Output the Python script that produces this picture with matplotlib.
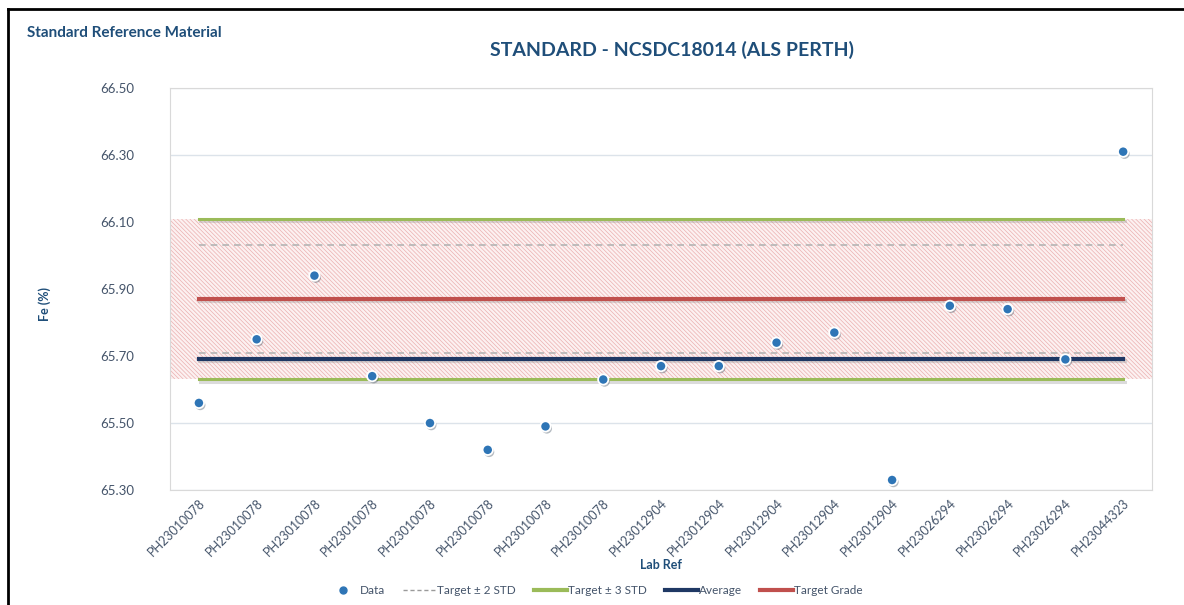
import matplotlib
matplotlib.use("Agg")
import matplotlib.pyplot as plt
import matplotlib.patheffects as pe
from matplotlib.lines import Line2D
import numpy as np

plt.rcParams['font.family'] = ['Lato', 'DejaVu Sans']
plt.rcParams['hatch.linewidth'] = 0.5

# ---- data ----
lab_refs = ['PH23010078'] * 8 + ['PH23012904'] * 5 + ['PH23026294'] * 3 + ['PH23044323']
fe_values = [65.56, 65.75, 65.94, 65.64, 65.50, 65.42, 65.49, 65.63,
             65.67, 65.67, 65.74, 65.77, 65.33, 65.85, 65.84, 65.69, 66.31]
target_grade = 65.87
std_dev = 0.08
average = 65.69
y_ticks = [65.30, 65.50, 65.70, 65.90, 66.10, 66.30, 66.50]

x = np.arange(len(lab_refs))
n = len(x)

title_col = '#1F4E79'
tick_col = '#44546A'

fig = plt.figure(figsize=(11.84, 6.05), dpi=100)
ax = fig.add_axes([0.1436, 0.19, 0.8294, 0.6645])

# shaded +/- 3 STD zone across the full width
ax.axhspan(target_grade - 3 * std_dev, target_grade + 3 * std_dev,
           facecolor='#FCF1F1', edgecolor='#EBB0B0', hatch='\\' * 8, lw=0, zorder=1)

shadow = [pe.SimpleLineShadow(offset=(1, -1.5), shadow_color='#999999', alpha=0.35), pe.Normal()]

ax.plot(x, [target_grade + 2 * std_dev] * n, color='#B4B4B4', lw=1.2, ls=(0, (4, 3)), zorder=3)
ax.plot(x, [target_grade - 2 * std_dev] * n, color='#B4B4B4', lw=1.2, ls=(0, (4, 3)), zorder=3)
ax.plot(x, [target_grade + 3 * std_dev] * n, color='#9BBB59', lw=2.2, zorder=3, path_effects=shadow)
ax.plot(x, [target_grade - 3 * std_dev] * n, color='#9BBB59', lw=2.2, zorder=3, path_effects=shadow)
ax.plot(x, [average] * n, color='#1F3864', lw=3, zorder=4, path_effects=shadow)
ax.plot(x, [target_grade] * n, color='#C0504D', lw=3, zorder=4, path_effects=shadow)

ax.scatter(x, fe_values, s=55, color='#2E75B6', edgecolors='white', linewidths=1.3, zorder=6,
           path_effects=[pe.SimplePatchShadow(offset=(1, -1.5), alpha=0.3), pe.Normal()])

ax.set_xlim(-0.5, n - 0.5)
ax.set_ylim(65.30, 66.50)
ax.set_yticks(y_ticks)
ax.set_yticklabels([f'{v:.2f}' for v in y_ticks])
ax.set_xticks(x)
ax.set_xticklabels(lab_refs, rotation=45, ha='right', rotation_mode='anchor')
ax.tick_params(axis='both', length=0, colors=tick_col, labelsize=9.5)
ax.tick_params(axis='y', pad=26)
ax.tick_params(axis='x', pad=5, labelsize=9)
ax.grid(axis='y', color='#DCE3EA', lw=1, zorder=0)
for side in ax.spines.values():
    side.set_color('#D9D9D9')
ax.set_axisbelow(True)

ax.set_xlabel('Lab Ref', fontsize=9, fontweight='bold', color=title_col, labelpad=0)
fig.text(0.038, 0.497, 'Fe (%)', rotation=90, fontsize=9, fontweight='bold', color=title_col,
         ha='center', va='center')

fig.text(0.5675, 0.918, 'STANDARD - NCSDC18014 (ALS PERTH)', fontsize=14, fontweight='bold',
         color=title_col, ha='center', va='center')
fig.text(0.023, 0.945, 'Standard Reference Material', fontsize=11, fontweight='bold',
         color=title_col, ha='left', va='center')

handles = [
    Line2D([], [], ls='none', marker='o', markersize=5, color='#2E75B6'),
    Line2D([], [], color='#9A9A9A', lw=1, ls=(0, (3, 2))),
    Line2D([], [], color='#9BBB59', lw=3),
    Line2D([], [], color='#1F3864', lw=3),
    Line2D([], [], color='#C0504D', lw=3),
]
labels = ['Data', 'Target \u00b1 2 STD', 'Target \u00b1 3 STD', 'Average', 'Target Grade']
leg = fig.legend(handles, labels, loc='center', bbox_to_anchor=(0.502, 0.024), ncol=5,
                 frameon=False, fontsize=8.5, handlelength=2.8, handletextpad=0.1, columnspacing=1.5)
for t in leg.get_texts():
    t.set_color(tick_col)

# outer frame lines
fig.add_artist(Line2D([8 / 1184, 1.0], [1 - 9 / 605, 1 - 9 / 605], color='black', lw=2, transform=fig.transFigure))
fig.add_artist(Line2D([8 / 1184, 8 / 1184], [0, 1 - 9 / 605], color='black', lw=2, transform=fig.transFigure))

fig.savefig('out.png', dpi=100)
